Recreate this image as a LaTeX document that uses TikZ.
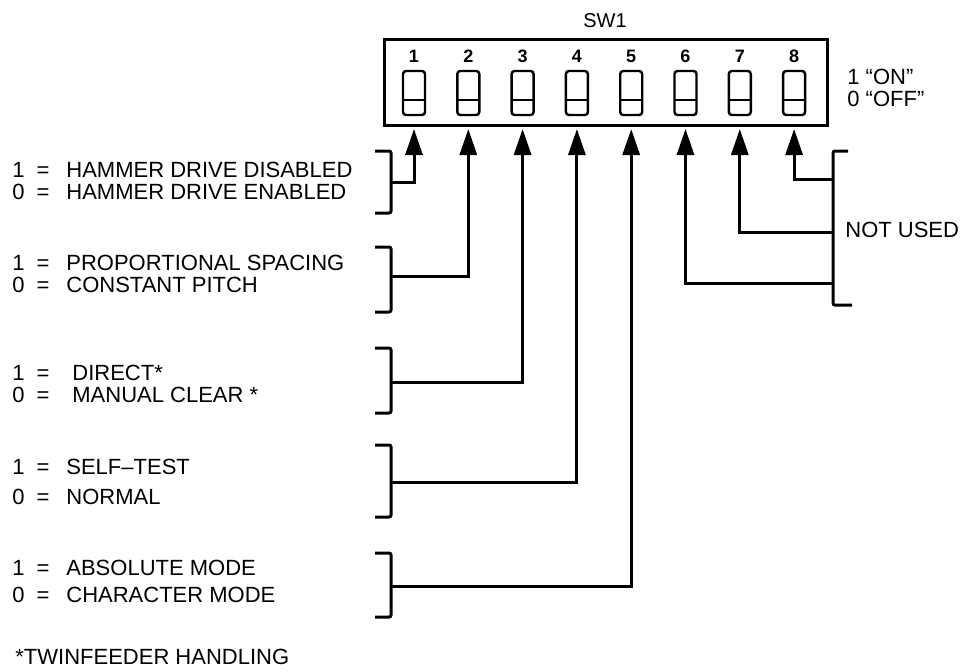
\documentclass[tikz,border=0pt]{standalone}
\usepackage{fontspec}
\setmainfont{Liberation Sans}
\usetikzlibrary{arrows.meta}

\newcommand\opt[2]{\makebox[27pt][l]{#1\hspace{6pt}=}#2}

\tikzset{
  txt/.style={font=\fontsize{11}{13}\selectfont, inner sep=0pt, anchor=west},
  wire/.style={line width=1.5pt},
  arr/.style={wire, -{Triangle[length=13pt,width=8.5pt]}},
  brk/.style={line width=1.5pt, rounded corners=1pt},
  swbox/.style={draw, line width=1.2pt, rounded corners=1.5pt, minimum width=11pt, minimum height=22pt, inner sep=0pt},
}

\begin{document}
\begin{tikzpicture}[x=0.5pt, y=-0.5pt]
\useasboundingbox (0,0) rectangle (960,671);
\def\pitch{54.3}

% switch block
\draw[line width=1.5pt] (384,39) rectangle (827,125);
\node[font=\fontsize{10}{12}\selectfont] (title) at (605,21) {SW1};
\foreach \i in {1,...,8}{
  \pgfmathsetmacro\xx{414+\pitch*(\i-1)}
  \node[font=\bfseries\fontsize{9}{10}\selectfont] (num\i) at (\xx,56) {\i};
  \node[swbox] (sw\i) at (\xx,93) {};
  \draw[line width=1.2pt] (\xx-11,100) -- (\xx+11,100);
  \coordinate (tip\i) at (\xx,129);
}
\node[txt] (on) at (847,77) {1 “ON”};
\node[txt] (off) at (847,99) {0 “OFF”};

% used switches
\foreach \n/\t/\b/\c in {1/151/213/182, 2/247/312/276, 3/348/413/382, 4/445/517/482, 5/553/617/586}{
  \draw[brk] (375,\t) -- (391,\t) -- (391,\b) -- (375,\b);
  \coordinate (br\n) at (391,\c);
  \draw[arr] (br\n) -| (tip\n);
}

\node[txt] (dis) at (12,170) {\opt{1}{HAMMER DRIVE DISABLED}};
\node[txt] (ena) at (12,192) {\opt{0}{HAMMER DRIVE ENABLED}};
\node[txt] (prop) at (12,263) {\opt{1}{PROPORTIONAL SPACING}};
\node[txt] (const) at (12,285) {\opt{0}{CONSTANT PITCH}};
\node[txt] (direct) at (12,373) {\opt{1}{\hspace{3pt}DIRECT*}};
\node[txt] (manual) at (12,395) {\opt{0}{\hspace{3pt}MANUAL CLEAR *}};
\node[txt] (selftest) at (12,467) {\opt{1}{SELF--TEST}};
\node[txt] (normal) at (12,497) {\opt{0}{NORMAL}};
\node[txt] (abs) at (12,568) {\opt{1}{ABSOLUTE MODE}};
\node[txt] (char) at (12,595) {\opt{0}{CHARACTER MODE}};
\node[txt] (foot) at (15,657) {*TWINFEEDER HANDLING};

% spare switches
\draw[brk] (848,151) -- (833,151) -- (833,305) -- (852,305);
\foreach \n/\c in {8/179, 7/232, 6/283}{
  \coordinate (nu\n) at (833,\c);
  \draw[arr] (nu\n) -| (tip\n);
}
\node[txt] (notused) at (845,230) {NOT USED};
\end{tikzpicture}
\end{document}
